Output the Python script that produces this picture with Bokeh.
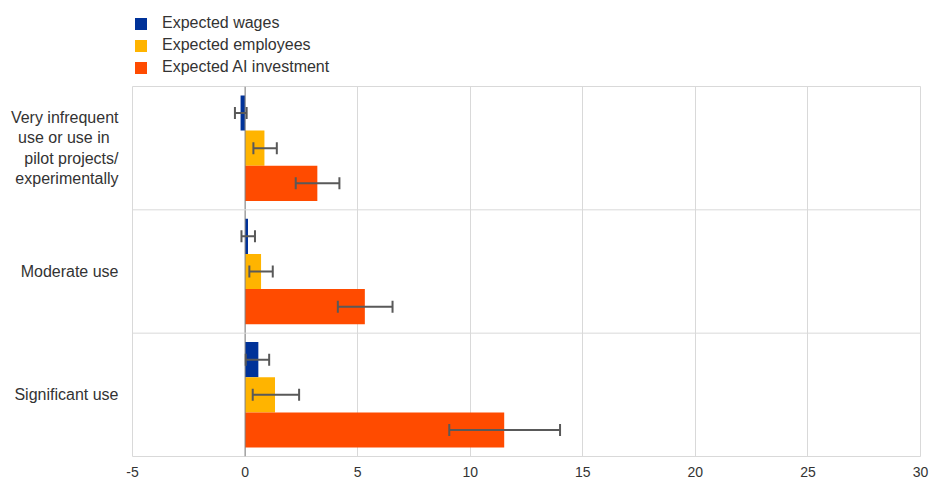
from bokeh.plotting import figure
from bokeh.layouts import column
from bokeh.models import (ColumnDataSource, FactorRange, Whisker, Span, Legend,
                          LegendItem, FixedTicker, Range1d, TeeHead)
from bokeh.transform import dodge
from bokeh.embed import file_html
from bokeh.resources import INLINE

categories = ["Very infrequent\nuse or use in\u00a0\u00a0\npilot projects/\nexperimentally",
              "Moderate use", "Significant use"]
series = ["Expected wages", "Expected employees", "Expected AI investment"]
colors = ["#003299", "#FFB400", "#FF4B00"]

wages = [-0.2, 0.13, 0.59]
wages_low = [-0.45, -0.16, 0.03]
wages_high = [0.07, 0.44, 1.07]
employees = [0.86, 0.71, 1.33]
employees_low = [0.37, 0.19, 0.34]
employees_high = [1.41, 1.23, 2.40]
ai_investment = [3.21, 5.32, 11.51]
ai_investment_low = [2.25, 4.12, 9.07]
ai_investment_high = [4.19, 6.55, 13.99]
x_ticks = [-5, 0, 5, 10, 15, 20, 25, 30]
x_tick_labels = ["-5", "0", "5", "10", "15", "20", "25", "30"]

values = [wages, employees, ai_investment]
lows = [wages_low, employees_low, ai_investment_low]
highs = [wages_high, employees_high, ai_investment_high]

FONT = "Liberation Sans"
TEXT = "#333333"
W = 930

# --- legend strip (top); zero-size proxy bars only carry the legend swatches ---
lg = figure(width=W, height=86, x_range=Range1d(0, 1), y_range=Range1d(0, 1),
            x_axis_type=None, y_axis_type=None, output_backend="svg",
            toolbar_location=None, min_border=0)
lg.outline_line_color = None
lg.xgrid.visible = False
lg.ygrid.visible = False
legend_items = []
for name, col in zip(series, colors):
    r = lg.hbar(y=[0], right=[0], left=0, height=0, fill_color=col, line_color=None)
    legend_items.append(LegendItem(label=name, renderers=[r]))
legend = Legend(items=legend_items, location=(1, 9), orientation="vertical",
                margin=0, padding=0, spacing=2, glyph_width=15, glyph_height=15,
                label_height=20, label_standoff=14, border_line_color=None,
                background_fill_alpha=0,
                label_text_font=FONT, label_text_font_size="16px",
                label_text_color=TEXT)
lg.add_layout(legend)

# --- main chart ---
p = figure(width=W, height=394,
           y_range=FactorRange(factors=list(reversed(categories))),
           x_range=Range1d(x_ticks[0], x_ticks[-1]),
           output_backend="svg", toolbar_location=None,
           min_border_left=132, min_border_right=10,
           min_border_top=0, min_border_bottom=24)
p.background_fill_color = "white"
p.border_fill_color = "white"
p.outline_line_color = "#d9d9d9"

bar_h = 0.285
offsets = [bar_h, 0.0, -bar_h]
for name, col, vals, lo, hi, off in zip(series, colors, values, lows, highs, offsets):
    src = ColumnDataSource(dict(cat=categories, val=vals, low=lo, high=hi))
    p.hbar(y=dodge("cat", off, range=p.y_range), left=0, right="val",
           height=bar_h, source=src, fill_color=col, line_color=None)
    w = Whisker(base=dodge("cat", off, range=p.y_range), lower="low", upper="high",
                source=src, dimension="width", line_color="#595959", line_width=2,
                upper_head=TeeHead(size=12, line_color="#595959", line_width=2),
                lower_head=TeeHead(size=12, line_color="#595959", line_width=2),
                level="overlay")
    p.add_layout(w)

for i in range(1, len(categories)):
    p.add_layout(Span(location=i, dimension="width", line_color="#d9d9d9", line_width=1))
p.add_layout(Span(location=0, dimension="height", line_color="#808080", line_width=1,
                  level="glyph"))

p.xgrid.ticker = FixedTicker(ticks=x_ticks)
p.xgrid.grid_line_color = "#d9d9d9"
p.ygrid.grid_line_color = None

p.xaxis.ticker = FixedTicker(ticks=x_ticks)
p.xaxis.major_label_overrides = dict(zip(x_ticks, x_tick_labels))
p.xaxis.axis_line_color = None
p.xaxis.major_tick_line_color = None
p.xaxis.minor_tick_line_color = None
p.xaxis.major_tick_out = 0
p.xaxis.major_label_standoff = 10
p.xaxis.major_label_text_font = FONT
p.xaxis.major_label_text_font_size = "14px"
p.xaxis.major_label_text_color = TEXT

p.yaxis.axis_line_color = None
p.yaxis.major_tick_line_color = None
p.yaxis.major_tick_out = 0
p.yaxis.major_label_standoff = 14
p.yaxis.major_label_text_font = FONT
p.yaxis.major_label_text_font_size = "16px"
p.yaxis.major_label_text_color = TEXT

layout = column(lg, p, spacing=0)
open("out.html", "w").write(file_html(layout, INLINE))
